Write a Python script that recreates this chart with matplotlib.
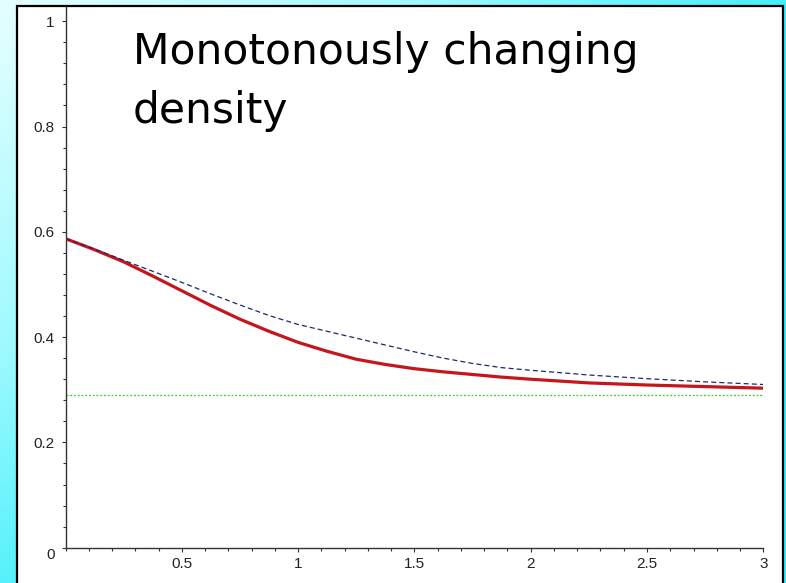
import numpy as np
import matplotlib
matplotlib.use("Agg")
import matplotlib.pyplot as plt
from matplotlib.patches import Rectangle
from matplotlib.colors import LinearSegmentedColormap
from matplotlib.ticker import MultipleLocator, FixedLocator

# Sampled density profiles
x_vals = [0.0, 0.125, 0.25, 0.375, 0.5, 0.625, 0.75, 0.875, 1.0, 1.125, 1.25,
          1.375, 1.5, 1.625, 1.75, 1.875, 2.0, 2.25, 2.5, 2.75, 3.0]
red_vals = [0.587, 0.566, 0.543, 0.516, 0.488, 0.460, 0.434, 0.411, 0.390,
            0.373, 0.358, 0.348, 0.340, 0.334, 0.329, 0.324, 0.320, 0.313,
            0.309, 0.306, 0.303]
blue_vals = [0.587, 0.567, 0.546, 0.525, 0.504, 0.482, 0.461, 0.441, 0.424,
             0.411, 0.398, 0.385, 0.372, 0.360, 0.350, 0.342, 0.337, 0.328,
             0.321, 0.315, 0.310]
green_level = 0.290

x_ticks = [0.5, 1.0, 1.5, 2.0, 2.5, 3.0]
x_tick_labels = ["0.5", "1", "1.5", "2", "2.5", "3"]
y_ticks = [0.0, 0.2, 0.4, 0.6, 0.8, 1.0]
y_tick_labels = ["0", "0.2", "0.4", "0.6", "0.8", "1"]

title_lines = ["Monotonously changing", "density"]

W, H = 786, 583
fig = plt.figure(figsize=(W / 100, H / 100), dpi=100)

# Cyan gradient backdrop
bg = fig.add_axes([0, 0, 1, 1], zorder=0)
gx, gy = np.meshgrid(np.linspace(0, 1, 200), np.linspace(0, 1, 200))
t = np.clip((gx * 1.1 + gy) * 0.85, 0, 1)
cmap = LinearSegmentedColormap.from_list("bgc", ["#e6ffff", "#a0faff", "#38eefa"])
bg.imshow(t, cmap=cmap, extent=[0, 1, 0, 1], origin="upper", aspect="auto")
bg.set_xlim(0, 1)
bg.set_ylim(0, 1)
bg.axis("off")

# White slide panel with black border
bg.add_patch(Rectangle((17 / W, -0.02), (783 - 17) / W, 1 - 6 / H + 0.02,
                       facecolor="white", edgecolor="black", linewidth=1.6,
                       transform=bg.transAxes))

# Plot axes
left_px, right_px = 65.5, 763.3
bottom_px, top_px = 547.7, 7.0
ax = fig.add_axes([left_px / W, 1 - bottom_px / H,
                   (right_px - left_px) / W, (bottom_px - top_px) / H], zorder=1)
ax.set_facecolor("none")
ax.set_xlim(0, 3)
ax.set_ylim(0, 1.027)

for s in ["top", "right"]:
    ax.spines[s].set_visible(False)
for s in ["left", "bottom"]:
    ax.spines[s].set_color("#333333")
    ax.spines[s].set_linewidth(1.0)

ax.plot(x_vals, red_vals, color="#c4161c", linewidth=2.3, solid_capstyle="butt",
        solid_joinstyle="round", zorder=3)
ax.plot(x_vals, blue_vals, color="#1c2a6a", linewidth=0.9, linestyle=(0, (4, 2.5)), zorder=4)
ax.plot([0, 3], [green_level, green_level], color="#35cc35", linewidth=0.9,
        linestyle=(0, (1.5, 1.5)), zorder=2)

ax.xaxis.set_major_locator(FixedLocator(x_ticks))
ax.set_xticklabels(x_tick_labels)
ax.xaxis.set_minor_locator(MultipleLocator(0.1))
ax.yaxis.set_major_locator(FixedLocator(y_ticks))
ax.set_yticklabels(y_tick_labels)
ax.yaxis.set_minor_locator(MultipleLocator(0.04))

ax.tick_params(which="both", direction="out", color="#333333", width=0.8,
               labelsize=11, labelcolor="#222222")
ax.tick_params(which="major", length=3)
ax.tick_params(which="minor", length=2.2)
ax.tick_params(axis="x", which="major", pad=4)
ax.tick_params(axis="y", which="major", pad=5)
for lab in ax.get_xticklabels() + ax.get_yticklabels():
    lab.set_fontfamily("Liberation Sans")
ax.get_yticklabels()[0].set_verticalalignment("top")

# Heading inside the plot area
fig.text(133 / W, 1 - 64 / H, title_lines[0], fontsize=30.5, family="DejaVu Sans",
         va="baseline", ha="left", color="black", zorder=5)
fig.text(133 / W, 1 - 123 / H, title_lines[1], fontsize=30.5, family="DejaVu Sans",
         va="baseline", ha="left", color="black", zorder=5)

fig.savefig("out.png", dpi=100)
